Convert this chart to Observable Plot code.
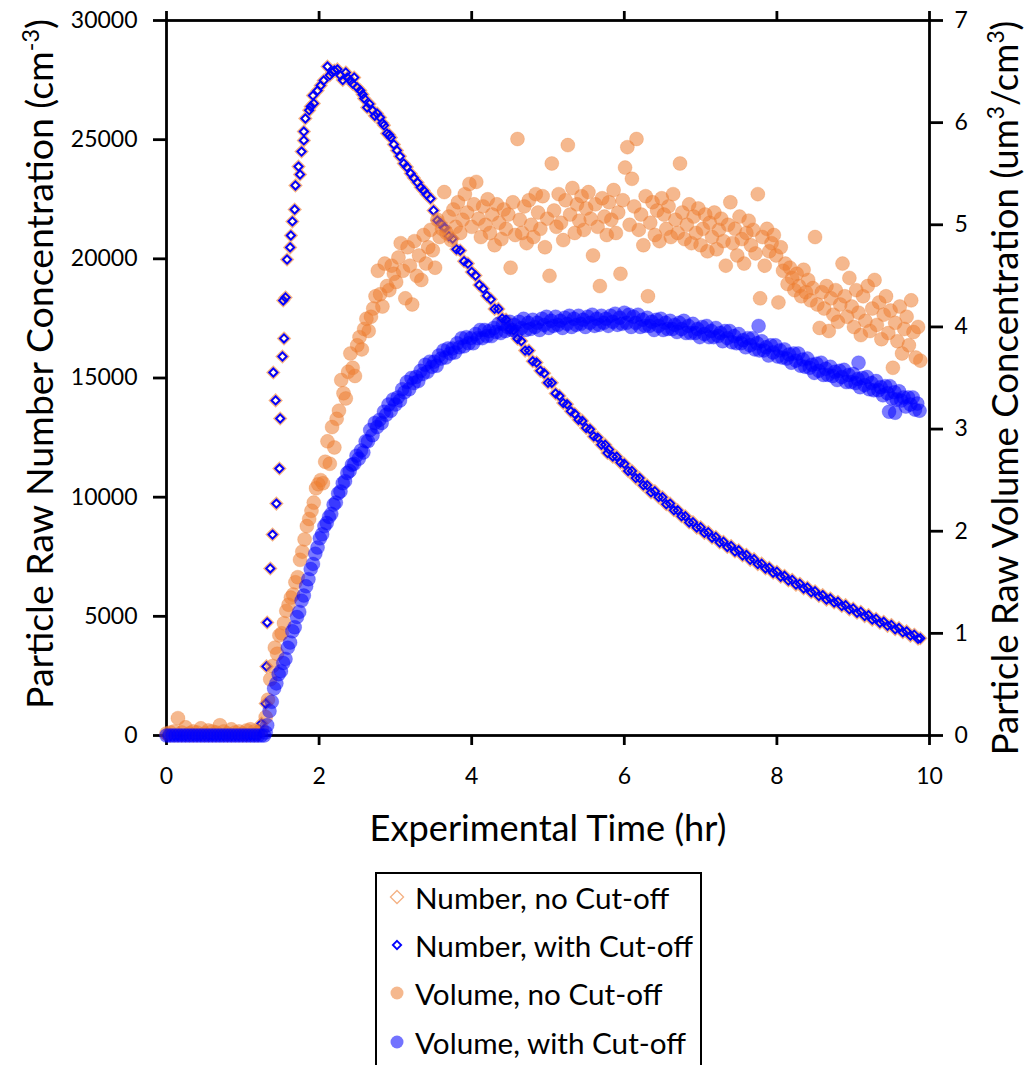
<!DOCTYPE html>
<html><head><meta charset="utf-8">
<script src="https://cdn.jsdelivr.net/npm/d3@7"></script>
<script src="https://cdn.jsdelivr.net/npm/@observablehq/plot@0.6"></script>
<style>
html,body{margin:0;padding:0;background:#fff;}
#wrap{position:relative;width:1029px;height:1065px;overflow:hidden;font-family:Lato,"Open Sans",sans-serif;}
#wrap > svg{position:absolute;left:0;top:0;}
#legend{position:absolute;left:375px;top:872px;width:327px;height:205px;border:2px solid #000;box-sizing:border-box;background:#fff;}
.item{position:absolute;left:0;height:40px;display:flex;align-items:center;white-space:nowrap;color:#000;}
.item svg{width:40px;height:40px;flex:none;}
</style></head><body><div id="wrap"></div>
<script>
// ---------------- data ----------------
const xTicks = [0, 2, 4, 6, 8, 10];
const yTicks = [0, 5000, 10000, 15000, 20000, 25000, 30000];
const volTicks = [0, 1, 2, 3, 4, 5, 6, 7];
const xTitle = "Experimental Time (hr)";
const yTitleParts = [["Particle Raw Number Concentration (cm", 0], ["-3", 1], [")", 0]];
const y2TitleParts = [["Particle Raw Volume Concentration (um", 0], ["3", 1], ["/cm", 0], ["3", 1], [")", 0]];
const legendLabels = ["Number, no Cut-off", "Number, with Cut-off", "Volume, no Cut-off", "Volume, with Cut-off"];

// [time (hr), number concentration (cm^-3)]
const numberNoCutoff = [
[0,0],[0.05,0],[0.1,0],[0.15,0],[0.2,0],[0.25,0],[0.3,0],[0.35,0],[0.4,0],[0.45,0],[0.5,0],[0.55,0],[0.6,0],[0.65,0],[0.7,0],[0.75,0],[0.8,0],[0.85,0],[0.9,0],[0.95,0],[1.0,0],[1.05,0],[1.1,0],[1.15,0],[1.2,0],
[1.245,500],[1.30,1340],[1.31,2900],[1.32,4740],[1.36,7010],[1.39,8430],[1.44,9730],[1.48,11200],[1.49,13300],[1.43,14060],[1.40,15230],[1.52,15900],[1.54,16660],[1.53,18250],[1.56,18380],[1.58,19970],[1.62,20480],[1.63,20980],[1.65,21570],[1.68,22070],[1.69,23080],[1.73,23870],[1.75,23540],[1.77,24500],[1.80,24970],[1.80,25340],[1.82,25890],[1.87,26230],[1.89,26390],[1.92,26850],[1.93,26520],[1.98,27060],[2.02,27270],[2.06,27480],[2.11,28070],
[2.14,27700],[2.17,27820],[2.20,27900],[2.24,27950],[2.28,27690],[2.31,27500],[2.35,27820],[2.37,27610],[2.41,27480],[2.44,27350],[2.46,27610],[2.50,27190],[2.54,27060],[2.57,26900],[2.59,26730],[2.63,26350],[2.66,26500],[2.70,26230],[2.73,26000],[2.76,26100],[2.80,25930],[2.83,25700],[2.85,25600],[2.89,25260],[2.92,25200],[2.94,25090],[2.98,24800],[3.02,24550],[3.06,24300],[3.11,24000],[3.15,23850],[3.20,23580],[3.24,23400],[3.29,23200],[3.33,23000],[3.37,22870],[3.41,22700],[3.46,22530],[3.50,22030],[3.55,21610],[3.59,21500],[3.63,21320],
[3.65,21300],[3.70,20950],[3.75,20850],[3.80,20400],[3.85,20350],[3.90,19900],[3.95,19800],[4.00,19450],[4.05,19300],[4.10,18900],[4.15,18750],[4.20,18450],[4.25,18300],[4.30,17900],[4.35,17900],[4.40,17500],[4.45,17450],[4.50,17050],[4.55,17000],[4.60,16650],[4.65,16550],[4.70,16150],[4.75,16150],[4.80,15700],[4.85,15650],[4.90,15300],[4.95,15200],[5.00,14800],[5.05,14800],[5.10,14350],[5.15,14250],[5.20,13950],[5.25,13900],[5.30,13600],[5.35,13500],[5.40,13250],[5.45,13200],[5.50,12900],[5.55,12850],[5.60,12550],[5.65,12500],[5.70,12200],[5.75,12200],[5.78,11850],[5.80,12000],[5.85,11700],[5.90,11700],[5.95,11450],[6.00,11400],[6.05,11100],[6.10,11100],[6.15,10800],[6.20,10800],[6.25,10500],[6.30,10500],[6.35,10200],[6.40,10250],[6.45,10000],[6.50,10000],[6.55,9700],[6.60,9730],[6.65,9450],[6.70,9450],[6.75,9200],[6.80,9200],[6.85,8940],[6.90,8950],[6.95,8720],[7.00,8740],[7.05,8500],[7.10,8530],[7.15,8300],[7.20,8330],[7.25,8100],[7.30,8130],[7.35,7910],[7.40,7950],[7.45,7720],[7.50,7770],[7.55,7550],[7.60,7580],[7.65,7370],[7.70,7400],[7.75,7190],[7.80,7210],[7.85,7010],[7.90,7040],[7.95,6830],[8.00,6870],[8.05,6660],[8.10,6700],[8.15,6500],[8.20,6530],[8.25,6330],[8.30,6370],[8.35,6170],[8.40,6210],[8.45,6010],[8.50,6050],[8.55,5850],[8.60,5890],[8.65,5700],[8.70,5750],[8.75,5580],[8.80,5610],[8.85,5430],[8.90,5470],[8.95,5290],[9.00,5330],[9.05,5150],[9.10,5190],[9.15,5010],[9.20,5050],[9.25,4860],[9.30,4900],[9.35,4730],[9.40,4770],[9.45,4600],[9.50,4640],[9.55,4460],[9.60,4510],[9.65,4330],[9.70,4370],[9.75,4190],[9.80,4230],[9.85,4060],[9.88,4080]
];
// the cut-off number series coincides with the no-cut-off one in the reference
const numberWithCutoff = numberNoCutoff;

// [time (hr), volume concentration (um^3/cm^3)]
const volumeNoCutoff = [
[0.00,0.02],[0.05,0.03],[0.10,0.04],[0.15,0.17],[0.20,0.03],[0.25,0.08],[0.30,0.02],[0.35,0.04],[0.40,0.03],[0.45,0.07],[0.50,0.02],[0.55,0.05],[0.60,0.04],[0.65,0.03],[0.70,0.10],[0.75,0.04],[0.80,0.02],[0.85,0.06],[0.90,0.03],[0.95,0.04],[1.00,0.02],[1.05,0.05],[1.10,0.06],[1.15,0.04],[1.20,0.03],[1.25,0.06],
[1.30,0.18],[1.33,0.35],[1.36,0.55],[1.39,0.68],[1.42,0.86],[1.45,0.80],[1.48,0.98],[1.51,1.00],[1.54,1.10],[1.57,1.22],[1.60,1.28],[1.63,1.35],[1.66,1.38],[1.69,1.50],[1.72,1.55],[1.75,1.72],[1.78,1.80],[1.81,1.92],[1.84,2.05],[1.87,2.12],[1.90,2.20],[1.93,2.28],[1.96,2.42],[1.99,2.46],[2.02,2.50],[2.05,2.47],[2.08,2.68],[2.11,2.88],[2.14,2.66],[2.17,3.02],[2.20,2.82],[2.23,3.10],[2.26,3.18],[2.29,3.48],[2.32,3.35],[2.35,3.30],[2.38,3.56],[2.41,3.74],[2.44,3.60],[2.47,3.52],[2.50,3.82],[2.53,3.90],[2.56,3.78],[2.59,3.98],[2.62,4.08],[2.65,3.96],[2.68,4.10],[2.71,4.18],[2.74,4.30],[2.77,4.55],[2.80,4.32],[2.83,4.20],[2.86,4.62],[2.89,4.40],[2.92,4.36],[2.95,4.60],[2.98,4.52],[3.01,4.44],[3.04,4.68],[3.07,4.82],[3.10,4.55],[3.13,4.28],[3.16,4.78],[3.19,4.60],[3.22,4.22],[3.25,4.84],[3.28,4.50],[3.31,4.70],[3.34,4.46],[3.37,4.90],[3.40,4.62],[3.43,4.78],[3.46,4.95],[3.49,4.75],[3.52,4.58],[3.55,5.05],[3.58,4.88],[3.61,4.96],[3.64,5.32],[3.67,4.92],[3.70,5.08],[3.73,4.85],[3.76,5.15],[3.79,4.98],[3.82,5.22],[3.85,4.92],[3.88,5.05],[3.91,5.30],[3.94,5.12],[3.97,5.40],[4.00,4.98],[4.03,5.20],[4.06,5.42],[4.09,5.06],[4.12,4.88],[4.15,5.18],[4.18,5.00],[4.21,5.25],[4.24,4.92],[4.27,5.10],[4.30,4.80],[4.33,5.20],[4.36,5.02],[4.39,4.86],[4.42,5.15],[4.45,4.96],[4.48,5.10],[4.51,4.58],[4.54,5.22],[4.57,4.90],[4.60,5.84],[4.63,5.05],[4.66,4.92],[4.69,5.18],[4.72,4.82],[4.75,5.24],[4.78,5.00],[4.81,4.88],[4.84,5.30],[4.87,5.12],[4.90,4.96],[4.93,5.28],[4.96,4.78],[4.99,5.06],[5.02,4.50],[5.05,5.60],[5.08,5.14],[5.11,4.98],[5.14,5.30],[5.17,5.02],[5.20,4.85],[5.23,5.24],[5.26,5.78],[5.29,5.10],[5.32,5.36],[5.35,4.92],[5.38,5.20],[5.41,5.04],[5.44,5.28],[5.47,4.95],[5.50,5.16],[5.53,5.32],[5.56,5.06],[5.59,4.70],[5.62,5.20],[5.65,4.98],[5.68,4.40],[5.71,5.26],[5.74,5.08],[5.77,4.90],[5.80,5.22],[5.83,5.05],[5.86,5.34],[5.89,4.92],[5.92,5.12],[5.95,4.52],[5.98,5.24],[6.01,5.56],[6.04,5.76],[6.07,5.00],[6.10,5.45],[6.13,5.18],[6.16,5.84],[6.19,4.95],[6.22,5.10],[6.25,4.80],[6.28,5.28],[6.31,4.30],[6.34,5.02],[6.37,5.22],[6.40,4.90],[6.43,5.14],[6.46,4.84],[6.49,5.26],[6.52,5.10],[6.55,4.96],[6.58,5.18],[6.61,4.88],[6.64,5.30],[6.67,5.05],[6.70,4.92],[6.73,5.60],[6.76,5.12],[6.79,4.86],[6.82,5.00],[6.85,5.20],[6.88,4.82],[6.91,5.08],[6.94,4.92],[6.97,5.16],[7.00,4.80],[7.03,4.96],[7.06,5.10],[7.09,4.74],[7.12,5.02],[7.15,4.88],[7.18,5.12],[7.21,4.76],[7.24,4.95],[7.27,5.06],[7.30,4.84],[7.33,4.60],[7.36,5.00],[7.39,5.22],[7.42,4.82],[7.45,4.96],[7.48,4.70],[7.51,5.08],[7.54,4.86],[7.57,4.62],[7.60,4.92],[7.63,5.04],[7.66,4.80],[7.69,4.95],[7.72,4.72],[7.75,5.30],[7.78,4.28],[7.81,4.88],[7.84,4.60],[7.87,4.96],[7.90,4.74],[7.93,4.82],[7.96,4.90],[7.99,4.70],[8.02,4.24],[8.05,4.78],[8.08,4.55],[8.11,4.62],[8.14,4.42],[8.17,4.58],[8.20,4.48],[8.23,4.36],[8.26,4.52],[8.29,4.40],[8.32,4.30],[8.35,4.56],[8.38,4.34],[8.41,4.46],[8.44,4.26],[8.47,4.38],[8.50,4.88],[8.53,4.22],[8.56,3.99],[8.59,4.34],[8.62,4.18],[8.65,4.40],[8.68,3.96],[8.71,4.28],[8.74,4.12],[8.77,4.36],[8.80,4.05],[8.83,4.22],[8.86,4.62],[8.89,4.30],[8.92,4.10],[8.95,4.48],[8.98,4.20],[9.01,4.00],[9.04,4.36],[9.07,4.14],[9.10,3.92],[9.13,4.30],[9.16,4.06],[9.19,4.40],[9.22,3.96],[9.25,4.18],[9.28,4.46],[9.31,4.02],[9.34,4.24],[9.37,3.88],[9.40,4.12],[9.43,4.30],[9.46,3.94],[9.49,4.16],[9.52,3.60],[9.55,4.04],[9.58,3.86],[9.61,4.20],[9.64,3.74],[9.67,3.98],[9.70,4.10],[9.73,3.82],[9.76,4.26],[9.79,3.95],[9.82,3.70],[9.85,4.00],[9.88,3.67]
];

const volumeWithCutoff = [
[0,0],[0.04,0],[0.08,0],[0.12,0],[0.16,0],[0.2,0],[0.24,0],[0.28,0],[0.32,0],[0.36,0],[0.4,0],[0.44,0],[0.48,0],[0.52,0],[0.56,0],[0.6,0],[0.64,0],[0.68,0],[0.72,0],[0.76,0],[0.8,0],[0.84,0],[0.88,0],[0.92,0],[0.96,0],[1.0,0],[1.04,0],[1.08,0],[1.12,0],[1.16,0],[1.2,0],[1.24,0],[1.28,0],
[1.30,0.03],[1.32,0.10],[1.35,0.24],[1.38,0.33],[1.41,0.46],[1.44,0.51],[1.47,0.60],[1.50,0.63],[1.53,0.71],[1.56,0.75],[1.59,0.86],[1.62,0.91],[1.65,1.02],[1.68,1.06],[1.71,1.16],[1.74,1.21],[1.77,1.32],[1.80,1.37],[1.83,1.46],[1.86,1.53],[1.89,1.63],[1.92,1.68],[1.95,1.78],[1.98,1.84],[2.01,1.93],[2.04,1.97],[2.07,2.05],[2.10,2.08],[2.13,2.14],[2.16,2.17],[2.19,2.26],[2.22,2.28],[2.25,2.37],[2.28,2.39],[2.31,2.47],[2.34,2.49],[2.37,2.57],[2.40,2.59],[2.43,2.65],[2.46,2.66],
[2.49,2.74],[2.52,2.71],[2.55,2.79],[2.58,2.77],[2.61,2.88],[2.64,2.88],[2.67,2.99],[2.70,2.94],[2.73,3.06],[2.76,3.02],[2.79,3.09],[2.82,3.06],[2.85,3.17],[2.88,3.14],[2.91,3.24],[2.94,3.18],[2.97,3.29],[3.00,3.24],[3.03,3.31],[3.06,3.28],[3.09,3.39],[3.12,3.36],[3.15,3.46],[3.18,3.39],[3.21,3.50],[3.24,3.45],[3.27,3.51],[3.30,3.47],[3.33,3.57],[3.36,3.54],[3.39,3.63],[3.42,3.56],[3.45,3.66],[3.48,3.61],[3.51,3.66],[3.54,3.62],[3.57,3.72],[3.60,3.69],[3.63,3.77],[3.66,3.70],[3.69,3.79],[3.72,3.74],[3.75,3.79],[3.78,3.75],[3.81,3.84],[3.84,3.80],[3.87,3.89],[3.90,3.81],[3.93,3.90],[3.96,3.84],[3.99,3.89],[4.02,3.84],[4.05,3.93],[4.08,3.89],[4.11,3.97],[4.14,3.89],[4.17,3.97],[4.20,3.91],[4.23,3.96],[4.26,3.91],[4.29,3.99],[4.32,3.95],[4.35,4.03],[4.38,3.94],[4.41,4.03],[4.44,3.96],[4.47,4.00],
[4.50,4.05],[4.53,3.97],[4.56,4.02],[4.59,3.95],[4.62,4.05],[4.65,3.99],[4.68,4.08],[4.71,3.97],[4.74,4.04],[4.77,3.98],[4.80,4.07],[4.83,4.00],[4.86,4.04],[4.89,3.97],[4.92,4.08],[4.95,4.02],[4.98,4.10],[5.01,3.99],[5.04,4.06],[5.07,4.01],[5.10,4.10],[5.13,4.02],[5.16,4.06],[5.19,3.99],[5.22,4.09],[5.25,4.03],[5.28,4.11],[5.31,4.00],[5.34,4.08],[5.37,4.02],[5.40,4.11],[5.43,4.03],[5.46,4.07],[5.49,4.00],[5.52,4.10],[5.55,4.04],[5.58,4.12],[5.61,4.01],[5.64,4.08],[5.67,4.02],[5.70,4.11],[5.73,4.04],[5.76,4.08],[5.79,4.01],[5.82,4.11],[5.85,4.05],[5.88,4.13],[5.91,4.02],[5.94,4.09],[5.97,4.03],[6.00,4.14],[6.03,4.04],[6.06,4.12],[6.09,4.00],[6.12,4.10],[6.15,4.04],[6.18,4.12],[6.21,4.00],[6.24,4.07],[6.27,4.01],[6.30,4.09],[6.33,4.01],[6.36,4.05],[6.39,3.97],[6.42,4.07],[6.45,4.01],[6.48,4.08],[6.51,3.97],[6.54,4.04],[6.57,3.98],[6.60,4.06],[6.63,3.98],[6.66,4.02],[6.69,3.95],[6.72,4.04],[6.75,3.98],[6.78,4.06],[6.81,3.94],[6.84,4.01],[6.87,3.94],[6.90,4.03],[6.93,3.94],[6.96,3.98],[6.99,3.90],[7.02,4.00],[7.05,3.93],[7.08,4.01],[7.11,3.90],[7.14,3.96],[7.17,3.90],[7.20,3.99],
[7.23,3.91],[7.26,3.94],[7.29,3.86],[7.32,3.96],[7.35,3.89],[7.38,3.96],[7.41,3.85],[7.44,3.91],[7.47,3.84],[7.50,3.93],[7.53,3.84],[7.56,3.87],[7.59,3.80],[7.62,3.89],[7.65,3.82],[7.68,3.89],[7.71,3.78],[7.74,3.84],[7.76,4.01],[7.77,3.77],[7.80,3.86],[7.83,3.77],[7.86,3.80],[7.89,3.72],[7.92,3.82],[7.95,3.75],[7.98,3.82],[8.01,3.71],[8.04,3.77],[8.07,3.70],[8.10,3.78],[8.13,3.69],[8.16,3.73],[8.19,3.65],[8.22,3.74],[8.25,3.67],[8.28,3.74],[8.31,3.62],[8.34,3.68],[8.37,3.61],[8.40,3.69],[8.43,3.60],[8.46,3.63],[8.49,3.55],[8.52,3.64],[8.55,3.57],[8.58,3.65],[8.61,3.53],[8.64,3.59],[8.67,3.53],[8.70,3.61],[8.73,3.52],[8.76,3.56],[8.79,3.48],[8.82,3.57],[8.85,3.51],[8.88,3.58],[8.91,3.46],[8.94,3.53],[8.97,3.46],[9.00,3.54],[9.03,3.45],[9.06,3.49],[9.07,3.65],[9.09,3.41],[9.12,3.50],[9.15,3.43],[9.18,3.51],[9.21,3.39],[9.24,3.45],[9.27,3.38],[9.30,3.47],[9.33,3.38],[9.36,3.41],[9.39,3.33],[9.42,3.42],[9.45,3.35],[9.47,3.17],[9.48,3.42],[9.51,3.30],[9.54,3.36],[9.55,3.16],[9.57,3.29],[9.60,3.37],[9.63,3.28],[9.66,3.31],[9.69,3.22],[9.72,3.31],[9.75,3.24],[9.78,3.31],[9.81,3.19],[9.84,3.25],[9.87,3.18]
];

// ---------------- styles ----------------
const FONT = "Lato, 'Open Sans', sans-serif";
const ORANGE = "#ED7D31", PALE_ORANGE = "#F4B183", BLUE = "#0000FF";
const W = 1029, H = 860;
const frameOpts = {width: W, height: H, marginTop: 20, marginRight: 100, marginBottom: 125, marginLeft: 166,
  style: {fontFamily: FONT, fontSize: "23px", color: "#000", background: "transparent", overflow: "visible"}};

const wrap = document.getElementById("wrap");

const p1 = Plot.plot({
  ...frameOpts,
  x: {domain: [0, 10]},
  y: {domain: [0, 30000]},
  marks: [
    Plot.dot(numberNoCutoff, {x: d => d[0], y: d => d[1], symbol: "diamond2", r: 4.4, stroke: PALE_ORANGE, strokeWidth: 3.4, fill: "none"}),
    Plot.dot(numberWithCutoff, {x: d => d[0], y: d => d[1], symbol: "diamond2", r: 3.7, stroke: BLUE, strokeWidth: 1.9, fill: "none"}),
    Plot.frame({stroke: "#000", strokeWidth: 2.8}),
    Plot.axisY(yTicks, {anchor: "left", tickSize: 13, tickPadding: 16, strokeWidth: 2.8, tickFormat: "d", label: null}),
    Plot.axisX(xTicks, {anchor: "bottom", tickSize: 10, tickPadding: 22, strokeWidth: 2.8, tickFormat: "d", label: null}),
    Plot.axisX(xTicks, {anchor: "top", tickSize: 10, strokeWidth: 2.8, tickFormat: () => "", label: null})
  ]
});
wrap.appendChild(p1);

const p2 = Plot.plot({
  ...frameOpts,
  x: {domain: [0, 10], axis: null},
  y: {domain: [0, 7]},
  marks: [
    Plot.dot(volumeNoCutoff, {x: d => d[0], y: d => d[1], r: 7, fill: ORANGE, fillOpacity: 0.55, stroke: ORANGE, strokeOpacity: 0.25, strokeWidth: 1}),
    Plot.dot(volumeWithCutoff, {x: d => d[0], y: d => d[1], r: 7, fill: BLUE, fillOpacity: 0.52, stroke: BLUE, strokeOpacity: 0.2, strokeWidth: 1}),
    Plot.axisY(volTicks, {anchor: "right", tickSize: 13, tickPadding: 12, strokeWidth: 2.8, tickFormat: "d", label: null})
  ]
});
p2.style.pointerEvents = "none";
wrap.appendChild(p2);

// ---------------- axis titles (fitted to the reference lengths) ----------------
function addTitle(svg, cx, cy, rotate, parts, targetLen) {
  const t = d3.select(svg).append("text")
    .attr("text-anchor", "middle").attr("fill", "#000")
    .attr("transform", `translate(${cx},${cy})` + (rotate ? ` rotate(${rotate})` : ""))
    .style("font-family", FONT);
  let fs = 28;
  function draw() {
    t.selectAll("*").remove();
    t.style("font-size", fs + "px").attr("dy", (0.35 * fs) + "px");
    let sup = false;
    parts.forEach(([txt, isSup]) => {
      const sp = t.append("tspan").text(txt);
      if (isSup && !sup) sp.attr("dy", -0.38 * fs);
      if (!isSup && sup) sp.attr("dy", 0.38 * fs);
      if (isSup) sp.style("font-size", (0.62 * fs) + "px");
      sup = !!isSup;
    });
  }
  draw();
  const len = t.node().getComputedTextLength();
  fs = fs * targetLen / len;
  draw();
}
addTitle(p1, 40, 364, -90, yTitleParts, 690);
addTitle(p1, 1005, 388, -90, y2TitleParts, 735);
addTitle(p1, 548, 828, 0, [[xTitle, 0]], 357);

// ---------------- legend (below the chart) ----------------
const legend = document.createElement("div");
legend.id = "legend";
wrap.appendChild(legend);
const rowCenters = [897, 945, 993, 1042];
const symbols = [
  g => g.append("path").attr("d", d3.symbol(d3.symbolDiamond2, 110)()).attr("fill", "none").attr("stroke", PALE_ORANGE).attr("stroke-width", 1.3),
  g => g.append("path").attr("d", d3.symbol(d3.symbolDiamond2, 45)()).attr("fill", "none").attr("stroke", BLUE).attr("stroke-width", 1.8),
  g => g.append("circle").attr("r", 6.5).attr("fill", ORANGE).attr("fill-opacity", 0.55),
  g => g.append("circle").attr("r", 6.5).attr("fill", BLUE).attr("fill-opacity", 0.55)
];
const spans = [];
legendLabels.forEach((lab, i) => {
  const it = document.createElement("div");
  it.className = "item";
  it.style.top = (rowCenters[i] - 872 - 2 - 20) + "px";
  it.style.left = "0px";
  const s = d3.create("svg").attr("viewBox", "-20 -20 40 40");
  symbols[i](s);
  it.appendChild(s.node());
  const sp = document.createElement("span");
  sp.textContent = lab;
  sp.style.fontFamily = FONT;
  sp.style.fontSize = "24px";
  sp.style.marginLeft = "-2px";
  it.appendChild(sp);
  legend.appendChild(it);
  spans.push(sp);
});
const w = spans[1].getBoundingClientRect().width;
const lfs = 24 * 278 / w;
spans.forEach(sp => sp.style.fontSize = lfs + "px");
</script>
</body></html>
